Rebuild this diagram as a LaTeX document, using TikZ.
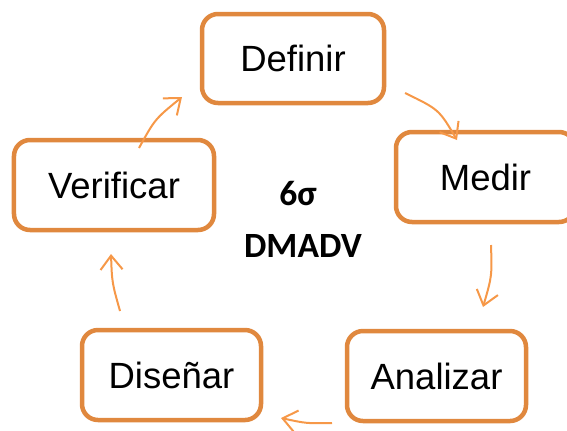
\documentclass[tikz,border=0pt]{standalone}
\usepackage{fontspec}
\setmainfont{Liberation Sans}
\newfontfamily\centerfont{Carlito}
\usetikzlibrary{arrows.meta,calc}
\definecolor{boxorange}{RGB}{224,136,62}
\definecolor{arroworange}{RGB}{246,152,72}
\tikzset{
  stagebox/.style={draw=boxorange, line width=4.5bp, rounded corners=16bp,
    outer sep=0pt, inner sep=0pt, font=\fontsize{36.5bp}{40bp}\selectfont},
  cyclearrow/.style={draw=arroworange, line width=2bp,
    -{Straight Barb[length=14bp,width=22bp,line width=2bp]}},
  centertext/.style={font=\centerfont\bfseries\fontsize{35.5bp}{38bp}\selectfont, inner sep=0pt}
}
\begin{document}
\begin{tikzpicture}[x=1bp,y=-1bp]
\useasboundingbox (0,0) rectangle (567,430);
\clip (0,0) rectangle (567,430);
\node[stagebox, minimum width=182bp, minimum height=89bp] (def) at (293,58.5) {Definir};
\node[stagebox, minimum width=179bp, minimum height=90bp] (med) at (485.5,177) {Medir};
\node[stagebox, minimum width=200bp, minimum height=90bp] (ver) at (114,185) {Verificar};
\node[stagebox, minimum width=179bp, minimum height=90bp] (dis) at (171.5,375) {Diseñar};
\node[stagebox, minimum width=179bp, minimum height=90bp] (ana) at (436.5,376) {Analizar};
\node[centertext] (sig) at (298,194) {6σ};
\node[centertext] (dmadv) at (303,246) {DMADV};
% arrow end points
\coordinate (a1s) at ($(def.south east)+(21,-10)$);
\coordinate (a1e) at ($(med.north west)+(61,8)$);
\coordinate (a2s) at ($(med.south)+(5.5,23)$);
\coordinate (a2e) at ($(ana.north)+(46.5,-24)$);
\coordinate (a3s) at ($(ana.south west)+(-15,2)$);
\coordinate (a3e) at ($(dis.south east)+(20,-2)$);
\coordinate (a4s) at ($(dis.north)+(-51.5,-19)$);
\coordinate (a4e) at ($(ver.south)+(-3,24)$);
\coordinate (a5s) at ($(ver.north)+(25,8)$);
\coordinate (a5e) at ($(def.south west)+(-20,-6)$);
\draw[cyclearrow] (a1s) .. controls (439,109.5) .. (a1e);
\draw[cyclearrow] (a2s) .. controls (492,276) .. (a2e);
\draw[cyclearrow] (a3s) .. controls (306.5,423.5) .. (a3e);
\draw[cyclearrow] (a4s) .. controls (112,282.5) .. (a4e);
\draw[cyclearrow] (a5s) .. controls (155,119) .. (a5e);
\end{tikzpicture}
\end{document}
